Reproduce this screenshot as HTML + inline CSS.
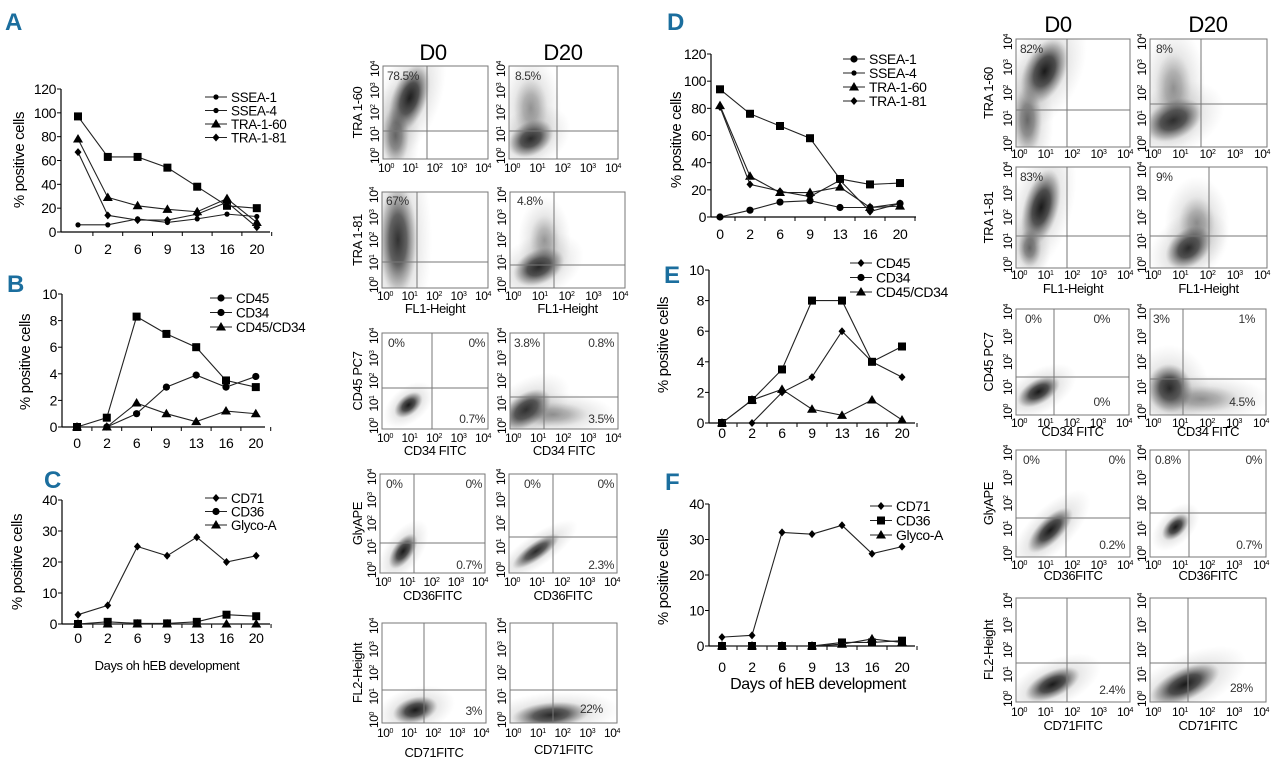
<!DOCTYPE html>
<html><head><meta charset="utf-8">
<style>
html,body{margin:0;padding:0;background:#fff;}
svg{display:block;font-family:"Liberation Sans Narrow","Liberation Sans",sans-serif;letter-spacing:-0.4px;}
</style></head>
<body>
<svg id="fig" width="1280" height="775" viewBox="0 0 1280 775" xmlns="http://www.w3.org/2000/svg">
<defs>
<radialGradient id="cloud" cx="50%" cy="50%" r="50%">
<stop offset="0" stop-color="#111" stop-opacity="0.95"/>
<stop offset="0.45" stop-color="#222" stop-opacity="0.75"/>
<stop offset="0.8" stop-color="#555" stop-opacity="0.3"/>
<stop offset="1" stop-color="#888" stop-opacity="0"/>
</radialGradient>
<radialGradient id="haze" cx="50%" cy="50%" r="50%">
<stop offset="0" stop-color="#555" stop-opacity="0.4"/>
<stop offset="1" stop-color="#999" stop-opacity="0"/>
</radialGradient>
</defs>
<g id="root"></g>
</svg>
<script>
// ---- chart data ----
const days = ["0","2","6","9","13","16","20"];
const aTicks = ["0","20","40","60","80","100","120"];
const aSSEA1 = [6,6,11,8,11,15,13];
const aSSEA4 = [97,63,63,54,38,22,20];
const aTRA160 = [78,29,22,19,17,28,8];
const aTRA181 = [67,14,10,10,15,25,4];
const bTicks = ["0","2","4","6","8","10"];
const bCD45 = [0,0,1,3,3.9,3,3.8];
const bCD34 = [0,0.7,8.3,7,6,3.5,3];
const bCD4534 = [0,0,1.8,1,0.4,1.2,1];
const cTicks = ["0","10","20","30","40"];
const cCD71 = [3,6,25,22,28,20,22];
const cCD36 = [0,0.7,0.2,0.2,0.7,3,2.5];
const cGly = [0,0,0,0,0,0,0];
const dSSEA1 = [0,5,11,12,7,7,10];
const dSSEA4 = [94,76,67,58,28,24,25];
const dTRA160 = [82,30,18,18,22,7,8];
const dTRA181 = [81,24,19,15,27,4,10];
const eCD45 = [0,0,2,3,6,4,3];
const eCD34 = [0,1.5,3.5,8,8,4,5];
const eCD4534 = [0,1.5,2.2,0.9,0.5,1.5,0.2];
const fCD71 = [2.5,3,32,31.5,34,26,28];
const fCD36 = [0,0,0,0,1,1,1.5];
const fGly = [0,0,0,0,0.5,2,1];

const NS="http://www.w3.org/2000/svg";
const root=document.getElementById('root');
function el(tag,attrs,parent){const e=document.createElementNS(NS,tag);for(const k in attrs)e.setAttribute(k,attrs[k]);(parent||root).appendChild(e);return e;}
function txt(s,attrs,parent){const e=el('text',attrs,parent);e.textContent=s;return e;}

function marker(g,type,x,y){
  let m;
  if(type==='square'){m=el('rect',{x:x-4,y:y-4,width:8,height:8,fill:'#000'},g);}
  else if(type==='circle'){m=el('circle',{cx:x,cy:y,r:3.6,fill:'#000'},g);}
  else if(type==='smallcircle'){m=el('circle',{cx:x,cy:y,r:2.6,fill:'#000'},g);}
  else if(type==='triangle'){m=el('polygon',{points:`${x},${y-5} ${x+5},${y+3.5} ${x-5},${y+3.5}`,fill:'#000'},g);}
  else {m=el('polygon',{points:`${x},${y-4} ${x+3.5},${y} ${x},${y+4} ${x-3.5},${y}`,fill:'#000'},g);}
  
  
}

function lineChart(c){
  const g=el('g',{});
  
  
  const ymax=+c.ticks[c.ticks.length-1];
  const ys=v=>c.y0-(v/ymax)*(c.y0-c.y1);
  const xs=i=>c.xFirst+i*c.step;
  const ya=el('line',{x1:c.ax,y1:c.y1,x2:c.ax,y2:c.y0,stroke:'#000','stroke-width':1.2},g);
  
  const xa=el('line',{x1:c.ax,y1:c.y0,x2:c.xEnd,y2:c.y0,stroke:'#000','stroke-width':1.2},g);
  
  c.ticks.forEach(t=>{
    const y=ys(+t);
    el('line',{x1:c.ax-4,y1:y,x2:c.ax,y2:y,stroke:'#000'},g);
    const tl=txt(t,{x:c.ax-5,y:y+5,'font-size':14,'text-anchor':'end'},g);
    
  });
  days.forEach((d,i)=>{
    el('line',{x1:xs(i)+c.step/2,y1:c.y0,x2:xs(i)+c.step/2,y2:c.y0+4,stroke:'#000'},g);
    const tl=txt(d,{x:xs(i),y:c.xly,'font-size':14,'text-anchor':'middle'},g);
    
  });
  const yt=txt('% positive cells',{x:0,y:0,'font-size':15,'text-anchor':'middle',transform:`translate(${c.ytx},${c.yty}) rotate(-90)`},g);
  
  if(c.xtitle){const xt=txt(c.xtitle[0],{x:c.xtitle[1],y:c.xtitle[2],'font-size':c.xtitle[3],'text-anchor':'middle'},g);
    }
  c.series.forEach((s,si)=>{
    const pts=s.vals.map((v,i)=>xs(i)+','+ys(v)).join(' ');
    const pl=el('polyline',{points:pts,fill:'none',stroke:'#222','stroke-width':1.1},g);
    
    
    s.vals.forEach((v,i)=>marker(g,s.m,xs(i),ys(v)));
    const ly=c.leg[1]+si*c.leg[2];
    const le=el('g',{},g);
    
    el('line',{x1:c.leg[0],y1:ly,x2:c.leg[0]+22,y2:ly,stroke:'#222'},le);
    marker(le,s.m==='square'&&s.lm?s.lm:s.m,c.leg[0]+11,ly);
    txt(s.label,{x:c.leg[0]+26,y:ly+5,'font-size':c.leg[3]},le);
  });
}

function letter(s,x,y){const t=txt(s,{x:x,y:y,'font-size':24,'font-weight':'bold',fill:'#1b6e9e'});
  }

letter('A',5,30);letter('B',7,292);letter('C',44,488);letter('D',667,30);letter('E',664,283);letter('F',665,490);

lineChart({name:'chart-a',ax:61,xEnd:270,y0:232,y1:89,xFirst:78,step:29.8,xly:254,ticks:aTicks,ytx:24,yty:160,
  leg:[205,97,13.5,13.5],series:[
  {label:'SSEA-1',vals:aSSEA1,m:'smallcircle'},{label:'SSEA-4',vals:aSSEA4,m:'square',lm:'smallcircle'},
  {label:'TRA-1-60',vals:aTRA160,m:'triangle'},{label:'TRA-1-81',vals:aTRA181,m:'diamond'}]});
lineChart({name:'chart-b',ax:62,xEnd:265,y0:427,y1:294,xFirst:77,step:29.8,xly:448,ticks:bTicks,ytx:30,yty:362,
  leg:[210,298,14.5,13.5],series:[
  {label:'CD45',vals:bCD45,m:'circle'},{label:'CD34',vals:bCD34,m:'square',lm:'circle'},
  {label:'CD45/CD34',vals:bCD4534,m:'triangle'}]});
lineChart({name:'chart-c',ax:62,xEnd:270,y0:624,y1:500,xFirst:78,step:29.7,xly:643,ticks:cTicks,ytx:22,yty:562,
  xtitle:['Days oh hEB development',167,670,13],
  leg:[205,498,13.5,13.5],series:[
  {label:'CD71',vals:cCD71,m:'diamond'},{label:'CD36',vals:cCD36,m:'square',lm:'circle'},
  {label:'Glyco-A',vals:cGly,m:'triangle'}]});
lineChart({name:'chart-d',ax:711,xEnd:916,y0:217,y1:54,xFirst:720,step:30,xly:239,ticks:aTicks,ytx:681,yty:140,
  leg:[843,59,14,14],series:[
  {label:'SSEA-1',vals:dSSEA1,m:'circle'},{label:'SSEA-4',vals:dSSEA4,m:'square',lm:'smallcircle'},
  {label:'TRA-1-60',vals:dTRA160,m:'triangle'},{label:'TRA-1-81',vals:dTRA181,m:'diamond'}]});
lineChart({name:'chart-e',ax:709,xEnd:915,y0:423,y1:270,xFirst:722,step:30,xly:438,ticks:bTicks,ytx:668,yty:345,
  leg:[850,263,14.5,14],series:[
  {label:'CD45',vals:eCD45,m:'diamond'},{label:'CD34',vals:eCD34,m:'square',lm:'circle'},
  {label:'CD45/CD34',vals:eCD4534,m:'triangle'}]});
lineChart({name:'chart-f',ax:709,xEnd:915,y0:646,y1:504,xFirst:722,step:30,xly:672,ticks:cTicks,ytx:668,yty:577,
  xtitle:['Days of hEB development',818,689,16],
  leg:[870,506,14.5,14],series:[
  {label:'CD71',vals:fCD71,m:'diamond'},{label:'CD36',vals:fCD36,m:'square'},
  {label:'Glyco-A',vals:fGly,m:'triangle'}]});

// ---- flow cytometry plots ----
function flow(p){
  const g=el('g',{});
  
  
  const [x0,y0,x1,y1]=p.box;
  const w=x1-x0,h=y1-y0;
  const cl=el('clipPath',{id:'c'+p.name},g);
  el('rect',{x:x0,y:y0,width:w,height:h},cl);
  const cg=el('g',{'clip-path':`url(#c${p.name})`},g);
  p.clouds.forEach(c=>{
    const cx=x0+c[0]*w,cy=y0+c[1]*h;
    el('ellipse',{cx:cx,cy:cy,rx:c[2]*w*2.3,ry:c[3]*h*2.3,fill:'url(#haze)',transform:`rotate(${c[4]} ${cx} ${cy})`},cg);
    el('ellipse',{cx:cx,cy:cy,rx:c[2]*w*1.3,ry:c[3]*h*1.3,fill:'url(#cloud)',opacity:c[5],transform:`rotate(${c[4]} ${cx} ${cy})`},cg);
  });
  el('rect',{x:x0,y:y0,width:w,height:h,fill:'none',stroke:'#777','stroke-width':1},g);
  el('line',{x1:p.v,y1:y0,x2:p.v,y2:y1,stroke:'#777'},g);
  el('line',{x1:x0,y1:p.hz,x2:x1,y2:p.hz,stroke:'#777'},g);
  for(let i=0;i<5;i++){
    const tx=x0+3+i*(w-8)/4;
    const t=txt('10',{x:tx,y:p.ty,'font-size':12,'text-anchor':'middle'},g);
    const sp=el('tspan',{'font-size':7,dy:-4},t);sp.textContent=String(i);
    
    const ty=y1-3-i*(h-6)/4;
    const t2=txt('10',{x:0,y:0,'font-size':12,'text-anchor':'middle',transform:`translate(${x0-4} ${ty}) rotate(-90)`},g);
    const sp2=el('tspan',{'font-size':7,dy:-4},t2);sp2.textContent=String(i);
    
  }
  if(p.xt){const t=txt(p.xt,{x:(x0+x1)/2,y:p.xty,'font-size':13,'text-anchor':'middle'},g);
    }
  if(p.yt){const t=txt(p.yt,{x:0,y:0,'font-size':13,'text-anchor':'middle',transform:`translate(${p.ytx} ${(y0+y1)/2}) rotate(-90)`},g);
    }
  (p.q||[]).forEach(q=>{
    const t=txt(q[0],{x:q[1],y:q[2],'font-size':12,fill:'#333','text-anchor':q[3]||'start'},g);
    
  });
}
function hdr(s,x,y,n){const t=txt(s,{x:x,y:y,'font-size':22,'text-anchor':'middle'});}
hdr('D0',433,60,'header-d0-left');hdr('D20',563,60,'header-d20-left');
hdr('D0',1058,32,'header-d0-right');hdr('D20',1208,32,'header-d20-right');

flow({name:'flow-l-tra160-d0',box:[383,66,488,159],v:427,hz:131,ty:172,yt:'TRA 1-60',ytx:362,
  clouds:[[0.25,0.35,0.13,0.3,20,1],[0.12,0.75,0.1,0.25,0,0.5]],q:[['78.5%',387,80]]});
flow({name:'flow-l-tra160-d20',box:[509,66,618,159],v:557,hz:131,ty:172,
  clouds:[[0.2,0.78,0.17,0.14,-30,1],[0.2,0.45,0.12,0.25,0,0.25]],q:[['8.5%',515,80]]});
flow({name:'flow-l-tra181-d0',box:[382,192,488,288],v:417,hz:262,ty:300,xt:'FL1-Height',xty:313,yt:'TRA 1-81',ytx:362,
  clouds:[[0.15,0.5,0.14,0.45,0,0.85]],q:[['67%',386,205]]});
flow({name:'flow-l-tra181-d20',box:[510,192,625,288],v:554,hz:265,ty:300,xt:'FL1-Height',xty:313,
  clouds:[[0.25,0.78,0.18,0.14,-25,1],[0.3,0.5,0.1,0.2,0,0.2]],q:[['4.8%',517,205]]});
flow({name:'flow-l-cd45-d0',box:[382,333,488,429],v:432,hz:388,ty:442,xt:'CD34 FITC',xty:455,yt:'CD45 PC7',ytx:362,
  clouds:[[0.25,0.75,0.12,0.08,-40,1]],q:[['0%',388,347],['0%',485,347,'end'],['0.7%',485,423,'end']]});
flow({name:'flow-l-cd45-d20',box:[510,333,618,429],v:544,hz:397,ty:442,xt:'CD34 FITC',xty:455,
  clouds:[[0.15,0.8,0.2,0.13,-35,1],[0.4,0.85,0.25,0.1,0,0.25]],q:[['3.8%',514,347],['0.8%',614,347,'end'],['3.5%',614,423,'end']]});
flow({name:'flow-l-gly-d0',box:[380,474,485,573],v:414,hz:543,ty:586,xt:'CD36FITC',xty:600,yt:'GlyAPE',ytx:362,
  clouds:[[0.22,0.78,0.15,0.08,-55,1]],q:[['0%',386,488],['0%',482,488,'end'],['0.7%',482,569,'end']]});
flow({name:'flow-l-gly-d20',box:[509,474,617,573],v:553,hz:537,ty:586,xt:'CD36FITC',xty:600,
  clouds:[[0.25,0.78,0.2,0.07,-35,0.9]],q:[['0%',524,488],['0%',614,488,'end'],['2.3%',614,569,'end']]});
flow({name:'flow-l-fl2-d0',box:[382,623,486,723],v:424,hz:690,ty:737,xt:'CD71FITC',xty:757,yt:'FL2-Height',ytx:362,
  clouds:[[0.32,0.87,0.17,0.1,-15,1]],q:[['3%',482,715,'end']]});
flow({name:'flow-l-fl2-d20',box:[510,623,617,723],v:553,hz:690,ty:737,xt:'CD71FITC',xty:754,
  clouds:[[0.38,0.92,0.28,0.1,-5,0.9]],q:[['22%',580,713]]});

flow({name:'flow-r-tra160-d0',box:[1016,39,1130,147],v:1067,hz:110,ty:158,yt:'TRA 1-60',ytx:993,
  clouds:[[0.25,0.3,0.14,0.25,25,1],[0.1,0.75,0.1,0.25,0,0.5]],q:[['82%',1020,53]]});
flow({name:'flow-r-tra160-d20',box:[1150,39,1267,147],v:1201,hz:104,ty:158,
  clouds:[[0.2,0.75,0.2,0.14,-25,1],[0.2,0.45,0.12,0.25,0,0.25]],q:[['8%',1156,53]]});
flow({name:'flow-r-tra181-d0',box:[1016,167,1130,268],v:1067,hz:236,ty:279,xt:'FL1-Height',xty:293,yt:'TRA 1-81',ytx:993,
  clouds:[[0.22,0.4,0.12,0.3,15,1],[0.12,0.8,0.08,0.15,0,0.5]],q:[['83%',1020,181]]});
flow({name:'flow-r-tra181-d20',box:[1150,167,1267,268],v:1209,hz:236,ty:279,xt:'FL1-Height',xty:293,
  clouds:[[0.33,0.8,0.17,0.14,-40,1],[0.4,0.55,0.12,0.2,0,0.25]],q:[['9%',1156,181]]});
flow({name:'flow-r-cd45-d0',box:[1016,309,1129,415],v:1054,hz:377,ty:427,xt:'CD34 FITC',xty:436,yt:'CD45 PC7',ytx:993,
  clouds:[[0.2,0.78,0.16,0.09,-30,1]],q:[['0%',1025,323],['0%',1110,323,'end'],['0%',1110,406,'end']]});
flow({name:'flow-r-cd45-d20',box:[1150,309,1266,415],v:1183,hz:379,ty:427,xt:'CD34 FITC',xty:436,
  clouds:[[0.17,0.75,0.15,0.18,-10,1],[0.45,0.85,0.25,0.1,0,0.25]],q:[['3%',1153,323],['1%',1255,323,'end'],['4.5%',1255,406,'end']]});
flow({name:'flow-r-gly-d0',box:[1016,450,1130,557],v:1066,hz:518,ty:569,xt:'CD36FITC',xty:580,yt:'GlyAPE',ytx:993,
  clouds:[[0.3,0.75,0.2,0.09,-45,1]],q:[['0%',1023,464],['0%',1125,464,'end'],['0.2%',1125,549,'end']]});
flow({name:'flow-r-gly-d20',box:[1150,450,1266,557],v:1189,hz:513,ty:569,xt:'CD36FITC',xty:580,
  clouds:[[0.22,0.72,0.11,0.07,-45,1]],q:[['0.8%',1155,464],['0%',1262,464,'end'],['0.7%',1262,549,'end']]});
flow({name:'flow-r-fl2-d0',box:[1016,598,1130,702],v:1067,hz:663,ty:716,xt:'CD71FITC',xty:730,yt:'FL2-Height',ytx:993,
  clouds:[[0.32,0.83,0.2,0.1,-25,1]],q:[['2.4%',1125,694,'end']]});
flow({name:'flow-r-fl2-d20',box:[1150,598,1266,702],v:1188,hz:663,ty:716,xt:'CD71FITC',xty:730,
  clouds:[[0.3,0.83,0.25,0.12,-25,1]],q:[['28%',1230,692]]});
</script>
</body></html>
